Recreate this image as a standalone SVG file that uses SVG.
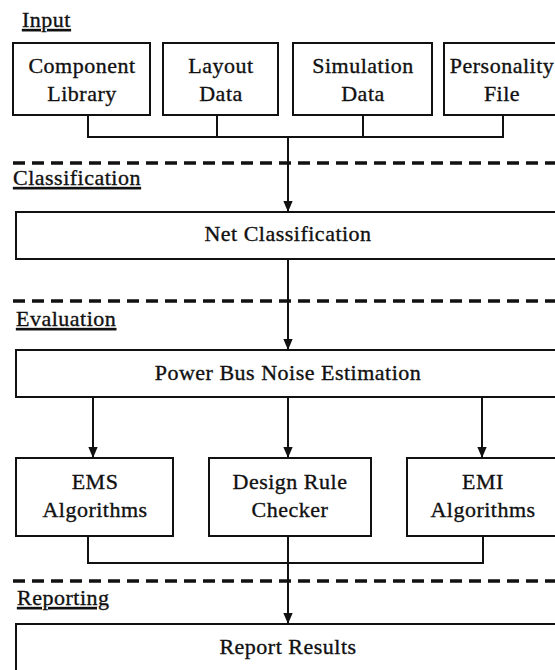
<svg xmlns="http://www.w3.org/2000/svg" width="555" height="670" viewBox="0 0 555 670">
<style>
  text { font-family: "Liberation Serif", "Times New Roman", serif; font-size: 22px; letter-spacing: 0.5px; fill: #111; stroke: #111; stroke-width: 0.35px; }
  .c { text-anchor: middle; }
  .lbl { text-decoration: underline; }
  .box { fill: #fff; stroke: #111; stroke-width: 2; }
  .ln { fill: none; stroke: #111; stroke-width: 2; }
  .dash { fill: none; stroke: #111; stroke-width: 3.5; stroke-dasharray: 12 7; }
</style>
<defs>
  <marker id="ah" markerWidth="11" markerHeight="13" viewBox="0 0 13 11" refX="13" refY="5.5" orient="auto" markerUnits="userSpaceOnUse">
    <path d="M0,0 L13,5.5 L0,11 Z" fill="#111"/>
  </marker>
</defs>
<rect width="555" height="670" fill="#fff"/>

<g id="section-labels">
  <text class="lbl" x="22" y="27">Input</text>
  <text class="lbl" x="13" y="185">Classification</text>
  <text class="lbl" x="16" y="326">Evaluation</text>
  <text class="lbl" x="17" y="605">Reporting</text>
</g>

<g id="separators">
  <line class="dash" x1="13" y1="163" x2="555" y2="163"/>
  <line class="dash" x1="13" y1="301" x2="555" y2="301"/>
  <line class="dash" x1="13" y1="581" x2="555" y2="581"/>
</g>

<g id="connectors">
  <polyline class="ln" points="88,115 88,137 503,137 503,115"/>
  <line class="ln" x1="217" y1="115" x2="217" y2="137"/>
  <line class="ln" x1="363" y1="115" x2="363" y2="137"/>
  <line class="ln" x1="288" y1="137" x2="288" y2="212" marker-end="url(#ah)"/>
  <line class="ln" x1="288" y1="259" x2="288" y2="350" marker-end="url(#ah)"/>
  <line class="ln" x1="93" y1="397" x2="93" y2="458" marker-end="url(#ah)"/>
  <line class="ln" x1="288" y1="397" x2="288" y2="458" marker-end="url(#ah)"/>
  <line class="ln" x1="482" y1="397" x2="482" y2="458" marker-end="url(#ah)"/>
  <polyline class="ln" points="88,536 88,563 483,563 483,536"/>
  <line class="ln" x1="288" y1="536" x2="288" y2="624" marker-end="url(#ah)"/>
</g>

<g id="component-library">
  <rect class="box" x="13" y="43" width="137" height="72"/>
  <text class="c" x="82" y="73">Component</text>
  <text class="c" x="82" y="101">Library</text>
</g>
<g id="layout-data">
  <rect class="box" x="163" y="43" width="115" height="72"/>
  <text class="c" x="221" y="73">Layout</text>
  <text class="c" x="221" y="101">Data</text>
</g>
<g id="simulation-data">
  <rect class="box" x="293" y="43" width="139" height="72"/>
  <text class="c" x="363" y="73">Simulation</text>
  <text class="c" x="363" y="101">Data</text>
</g>
<g id="personality-file">
  <rect class="box" x="444" y="43" width="118" height="72"/>
  <text class="c" x="502" y="73">Personality</text>
  <text class="c" x="502" y="101">File</text>
</g>

<g id="net-classification">
  <rect class="box" x="16" y="212" width="550" height="47"/>
  <text class="c" x="288" y="241">Net Classification</text>
</g>

<g id="power-bus-noise-estimation">
  <rect class="box" x="16" y="350" width="550" height="47"/>
  <text class="c" x="288" y="380">Power Bus Noise Estimation</text>
</g>

<g id="ems-algorithms">
  <rect class="box" x="16" y="458" width="157" height="78"/>
  <text class="c" x="95" y="489">EMS</text>
  <text class="c" x="95" y="517">Algorithms</text>
</g>
<g id="design-rule-checker">
  <rect class="box" x="209" y="458" width="162" height="78"/>
  <text class="c" x="290" y="489">Design Rule</text>
  <text class="c" x="290" y="517">Checker</text>
</g>
<g id="emi-algorithms">
  <rect class="box" x="407" y="458" width="155" height="78"/>
  <text class="c" x="483" y="489">EMI</text>
  <text class="c" x="483" y="517">Algorithms</text>
</g>

<g id="report-results">
  <rect class="box" x="16" y="624" width="550" height="60"/>
  <text class="c" x="288" y="654">Report Results</text>
</g>
</svg>
